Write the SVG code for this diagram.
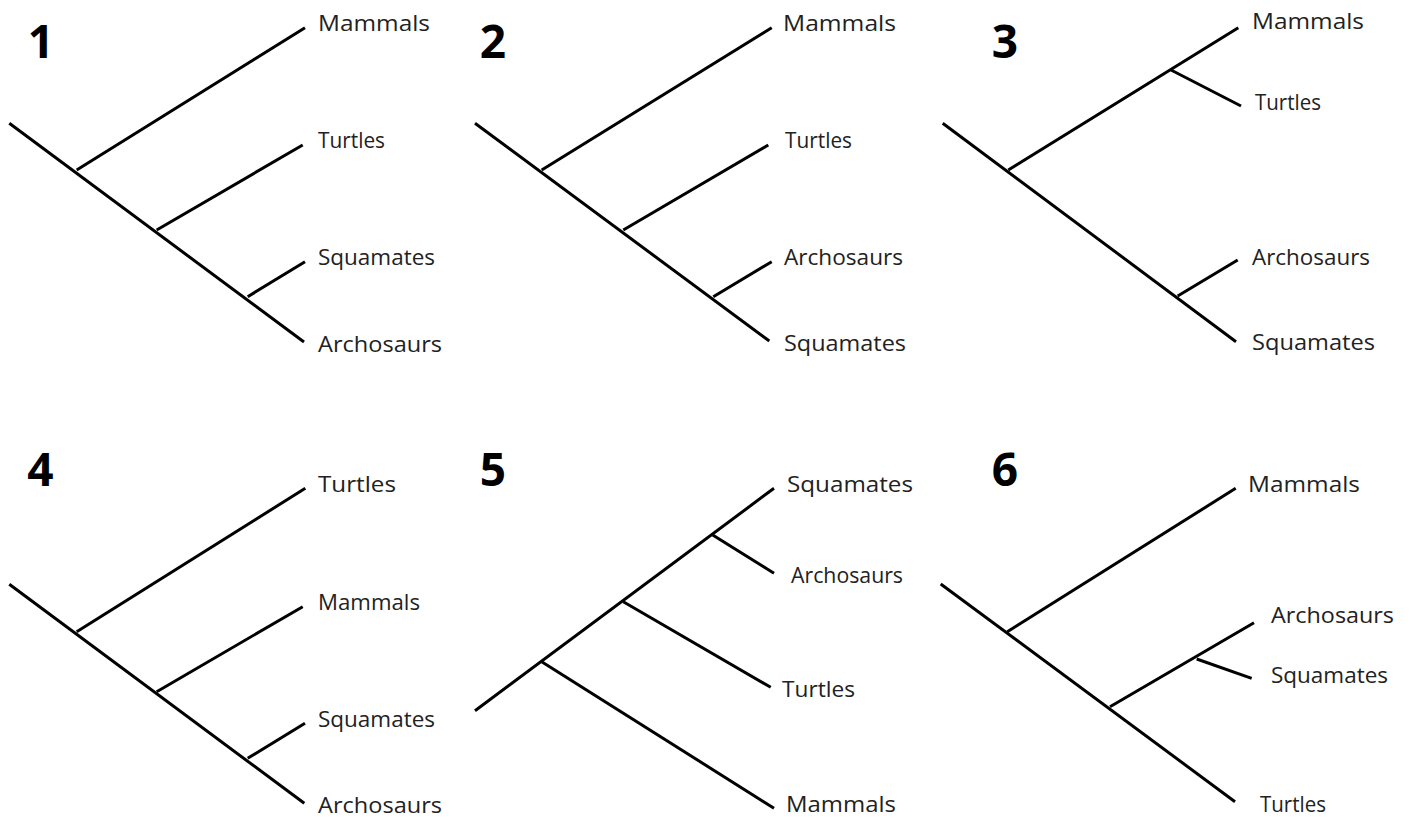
<svg xmlns="http://www.w3.org/2000/svg" width="1412" height="817" viewBox="0 0 1412 817">
<style>
.bg{fill:#ffffff}
.br{stroke:#000;stroke-width:3;fill:none;stroke-linecap:butt}
.lb{font-family:"Open Sans","Noto Sans","Liberation Sans",sans-serif;font-size:22px;fill:#222;lengthAdjust:spacingAndGlyphs}
.num{font-family:"Open Sans","Liberation Sans",sans-serif;font-size:46px;font-weight:bold;fill:#000;text-anchor:middle}
</style>
<rect class="bg" x="0" y="0" width="1412" height="817"/>

<g id="panel1">
  <text id="n1" class="num" x="41" y="58">1</text>
  <g id="p1-connectors">
    <line class="br" x1="9.3" y1="123.3" x2="304" y2="342"/>
    <line class="br" x1="76.7" y1="170" x2="305" y2="27.7"/>
    <line class="br" x1="156.7" y1="230" x2="302.7" y2="145"/>
    <line class="br" x1="247.7" y1="296.7" x2="305" y2="261.7"/>
  </g>
  <g id="p1-mammals"><text class="lb" x="318" y="31" textLength="112" lengthAdjust="spacingAndGlyphs">Mammals</text></g>
  <g id="p1-turtles"><text class="lb" x="318" y="148" textLength="67" lengthAdjust="spacingAndGlyphs">Turtles</text></g>
  <g id="p1-squamates"><text class="lb" x="318" y="265" textLength="117" lengthAdjust="spacingAndGlyphs">Squamates</text></g>
  <g id="p1-archosaurs"><text class="lb" x="318" y="352" textLength="124" lengthAdjust="spacingAndGlyphs">Archosaurs</text></g>
</g>

<g id="panel2">
  <text id="n2" class="num" x="493" y="58">2</text>
  <g id="p2-connectors">
    <line class="br" x1="475" y1="123.3" x2="769.3" y2="341"/>
    <line class="br" x1="541.7" y1="170" x2="771.7" y2="27.7"/>
    <line class="br" x1="623.3" y1="230" x2="768.3" y2="145"/>
    <line class="br" x1="713.3" y1="296.7" x2="771.7" y2="261.7"/>
  </g>
  <g id="p2-mammals"><text class="lb" x="783" y="31" textLength="113" lengthAdjust="spacingAndGlyphs">Mammals</text></g>
  <g id="p2-turtles"><text class="lb" x="785" y="148" textLength="67" lengthAdjust="spacingAndGlyphs">Turtles</text></g>
  <g id="p2-archosaurs"><text class="lb" x="784" y="265" textLength="119" lengthAdjust="spacingAndGlyphs">Archosaurs</text></g>
  <g id="p2-squamates"><text class="lb" x="784" y="351" textLength="122" lengthAdjust="spacingAndGlyphs">Squamates</text></g>
</g>

<g id="panel3">
  <text id="n3" class="num" x="1005" y="58">3</text>
  <g id="p3-connectors">
    <line class="br" x1="942.7" y1="123.3" x2="1236" y2="341.7"/>
    <line class="br" x1="1008.3" y1="170" x2="1238.3" y2="27.7"/>
    <line class="br" x1="1171" y1="70" x2="1241" y2="106"/>
    <line class="br" x1="1177.7" y1="296" x2="1237.7" y2="260"/>
  </g>
  <g id="p3-mammals"><text class="lb" x="1252" y="29" textLength="112" lengthAdjust="spacingAndGlyphs">Mammals</text></g>
  <g id="p3-turtles"><text class="lb" x="1255" y="110" textLength="66" lengthAdjust="spacingAndGlyphs">Turtles</text></g>
  <g id="p3-archosaurs"><text class="lb" x="1252" y="265" textLength="118" lengthAdjust="spacingAndGlyphs">Archosaurs</text></g>
  <g id="p3-squamates"><text class="lb" x="1252" y="350" textLength="123" lengthAdjust="spacingAndGlyphs">Squamates</text></g>
</g>

<g id="panel4">
  <text id="n4" class="num" x="40.5" y="486">4</text>
  <g id="p4-connectors">
    <line class="br" x1="9.3" y1="584.3" x2="304.3" y2="803.3"/>
    <line class="br" x1="76.7" y1="631.7" x2="305.3" y2="488.3"/>
    <line class="br" x1="156.7" y1="691.7" x2="302.7" y2="606.7"/>
    <line class="br" x1="247.7" y1="758.3" x2="305" y2="723.3"/>
  </g>
  <g id="p4-turtles"><text class="lb" x="318" y="492" textLength="78" lengthAdjust="spacingAndGlyphs">Turtles</text></g>
  <g id="p4-mammals"><text class="lb" x="318" y="610" textLength="102" lengthAdjust="spacingAndGlyphs">Mammals</text></g>
  <g id="p4-squamates"><text class="lb" x="318" y="727" textLength="117" lengthAdjust="spacingAndGlyphs">Squamates</text></g>
  <g id="p4-archosaurs"><text class="lb" x="318" y="813" textLength="124" lengthAdjust="spacingAndGlyphs">Archosaurs</text></g>
</g>

<g id="panel5">
  <text id="n5" class="num" x="493" y="486">5</text>
  <g id="p5-connectors">
    <line class="br" x1="475" y1="710.7" x2="774" y2="488.3"/>
    <line class="br" x1="541.7" y1="661.7" x2="774" y2="808.3"/>
    <line class="br" x1="623.3" y1="601.7" x2="770.7" y2="687.3"/>
    <line class="br" x1="712.7" y1="535" x2="774" y2="573.3"/>
  </g>
  <g id="p5-squamates"><text class="lb" x="787" y="492" textLength="126" lengthAdjust="spacingAndGlyphs">Squamates</text></g>
  <g id="p5-archosaurs"><text class="lb" x="791" y="583" textLength="112" lengthAdjust="spacingAndGlyphs">Archosaurs</text></g>
  <g id="p5-turtles"><text class="lb" x="782" y="697" textLength="73" lengthAdjust="spacingAndGlyphs">Turtles</text></g>
  <g id="p5-mammals"><text class="lb" x="786" y="812" textLength="110" lengthAdjust="spacingAndGlyphs">Mammals</text></g>
</g>

<g id="panel6">
  <text id="n6" class="num" x="1005" y="486">6</text>
  <g id="p6-connectors">
    <line class="br" x1="940.7" y1="584" x2="1235" y2="801.7"/>
    <line class="br" x1="1007.3" y1="631.7" x2="1235.7" y2="488.3"/>
    <line class="br" x1="1110" y1="706.7" x2="1254" y2="622.7"/>
    <line class="br" x1="1196.7" y1="659" x2="1251.7" y2="678.3"/>
  </g>
  <g id="p6-mammals"><text class="lb" x="1248" y="492" textLength="112" lengthAdjust="spacingAndGlyphs">Mammals</text></g>
  <g id="p6-archosaurs"><text class="lb" x="1271" y="623" textLength="123" lengthAdjust="spacingAndGlyphs">Archosaurs</text></g>
  <g id="p6-squamates"><text class="lb" x="1271" y="683" textLength="117" lengthAdjust="spacingAndGlyphs">Squamates</text></g>
  <g id="p6-turtles"><text class="lb" x="1260" y="812" textLength="66" lengthAdjust="spacingAndGlyphs">Turtles</text></g>
</g>
</svg>
